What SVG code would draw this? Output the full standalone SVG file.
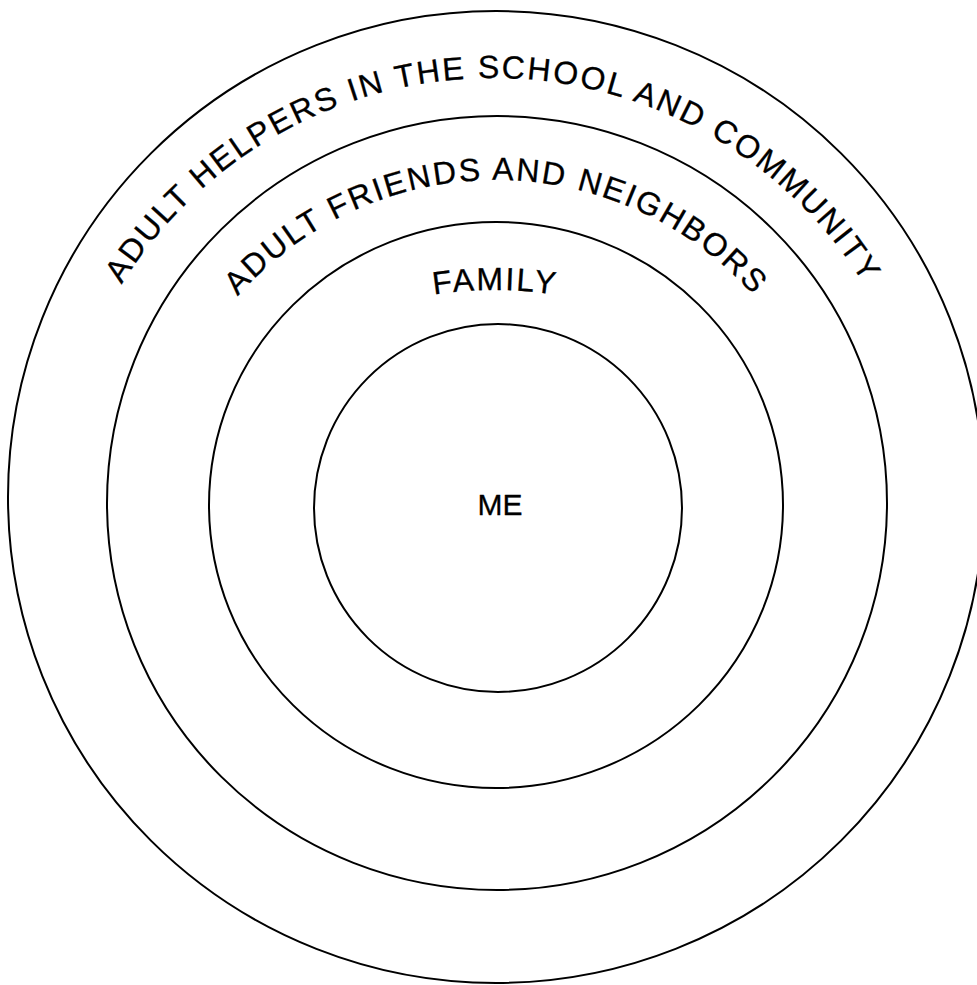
<svg xmlns="http://www.w3.org/2000/svg" xmlns:xlink="http://www.w3.org/1999/xlink" width="977" height="985" viewBox="0 0 977 985">
<style>
.ring{fill:none;stroke:#000;stroke-width:2}
.lbl{font-family:"Liberation Sans",Arial,Helvetica,sans-serif;fill:#000;stroke:#000;stroke-width:0.3}
</style>
<defs>
<path id="arcOuter" d="M 56 515 A 437 437 0 0 1 930 515"/>
<path id="arcMid" d="M 151 525 A 345 345 0 0 1 841 525"/>
<path id="arcFam" d="M 95 690 A 400 400 0 0 1 895 690"/>
</defs>
<rect width="977" height="985" fill="#fff"/>
<g id="community">
<ellipse class="ring" cx="496" cy="497" rx="488" ry="486"/>
<text class="lbl" font-size="32" letter-spacing="2.2" text-anchor="middle"><textPath xlink:href="#arcOuter" href="#arcOuter" startOffset="50%">ADULT HELPERS IN THE SCHOOL AND COMMUNITY</textPath></text>
</g>
<g id="friends">
<ellipse class="ring" cx="497" cy="503" rx="390" ry="387"/>
<text class="lbl" font-size="32" letter-spacing="2.1" text-anchor="middle"><textPath xlink:href="#arcMid" href="#arcMid" startOffset="50%">ADULT FRIENDS AND NEIGHBORS</textPath></text>
</g>
<g id="family">
<ellipse class="ring" cx="496" cy="505" rx="287" ry="283"/>
<text class="lbl" font-size="32" letter-spacing="2" text-anchor="middle"><textPath xlink:href="#arcFam" href="#arcFam" startOffset="50%">FAMILY</textPath></text>
</g>
<g id="me">
<circle class="ring" cx="498" cy="508" r="184"/>
<text class="lbl" x="500" y="515" font-size="30" text-anchor="middle">ME</text>
</g>
<g id="connectors"/>
</svg>
